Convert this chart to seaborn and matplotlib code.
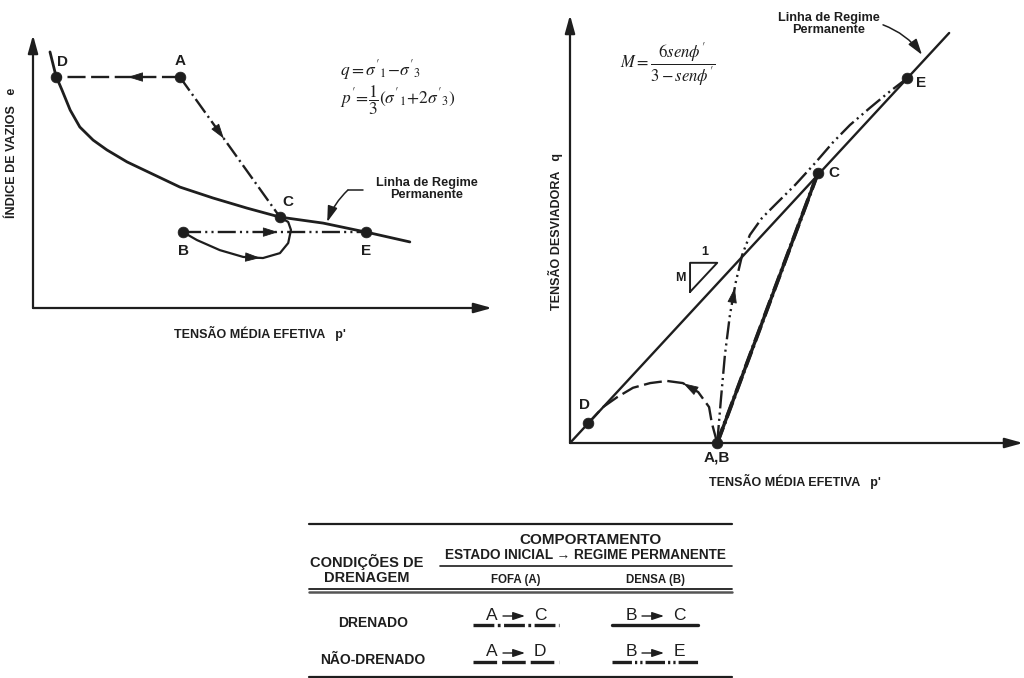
import numpy as np
import matplotlib
matplotlib.use("Agg")
import matplotlib.pyplot as plt
import seaborn as sns

# ---------------- e x p' diagram ----------------
csl_p = [0.37, 0.50, 0.63, 0.81, 1.02, 1.31, 1.61, 2.05, 2.55, 3.20, 3.92, 4.66,
         5.38, 6.32, 7.34, 8.21]
csl_e = [9.38, 8.50, 7.99, 7.25, 6.63, 6.15, 5.79, 5.35, 4.95, 4.43, 4.03, 3.66,
         3.33, 3.11, 2.75, 2.42]

left_names = ["D", "A", "C", "B", "E"]
left_p = [0.50, 3.20, 5.38, 3.27, 7.25]
left_e = [8.46, 8.46, 3.33, 2.78, 2.78]

# drained dense path B -> C (loop under the steady-state line)
loop_p = [3.27, 3.57, 4.07, 4.58, 5.01, 5.38, 5.56, 5.62, 5.56, 5.38]
loop_e = [2.78, 2.49, 2.12, 1.87, 1.83, 2.01, 2.38, 2.86, 3.15, 3.33]

# ---------------- q x p' diagram ----------------
ssl_p = [0.0, 8.37]
ssl_q = [0.0, 9.58]

right_names = ["D", "A,B", "C", "E"]
right_p = [0.40, 3.25, 5.47, 7.44]
right_q = [0.46, 0.00, 6.30, 8.52]

undr_loose_p = [3.25, 3.13, 3.07, 2.83, 2.49, 2.14, 1.77, 1.39, 1.04, 0.73, 0.40]
undr_loose_q = [0.00, 0.47, 0.84, 1.19, 1.40, 1.45, 1.40, 1.29, 1.07, 0.84, 0.46]

undr_dense_p = [3.25, 3.33, 3.42, 3.53, 3.66, 3.80, 3.97, 4.24, 4.57, 4.97, 5.41,
                5.81, 6.18, 6.62, 7.02, 7.44]
undr_dense_q = [0.00, 1.00, 2.06, 2.99, 3.76, 4.39, 4.86, 5.26, 5.61, 6.03, 6.54,
                7.03, 7.43, 7.83, 8.18, 8.52]

# ---------------- table ----------------
drain_rows = ["DRENADO", "NÃO-DRENADO"]
state_cols = ["FOFA (A)", "DENSA (B)"]
paths_tab = [[("A", "C"), ("B", "C")], [("A", "D"), ("B", "E")]]

INK = "#1e1e1e"
# dash patterns in points
DASHED = (0, (13, 4))
DASHDOT = (0, (12, 3, 1.5, 3))
DASHDOTDOT = (0, (13, 3, 1.5, 3, 1.5, 3))
TAB_DASHED = (0, (17, 3.6))
TAB_DASHDOT = (0, (15, 2.5, 2, 2.5))
TAB_DASHDOTDOT = (0, (14, 2.2, 1.6, 2.2, 1.6, 2.2))

sns.set_theme(style="white")
plt.rcParams["font.family"] = ["Liberation Sans", "DejaVu Sans"]
plt.rcParams["mathtext.fontset"] = "stix"
plt.rcParams["lines.scale_dashes"] = False

fig = plt.figure(figsize=(10.24, 6.78), dpi=100)
fig.patch.set_facecolor("white")

HEAD = "-|>,head_length=0.8,head_width=0.25"


def setup(ax):
    ax.set_xlim(0, 10)
    ax.set_ylim(0, 10)
    ax.axis("off")
    ax.patch.set_alpha(0)
    head = "-|>,head_length=0.9,head_width=0.25"
    ax.annotate("", xy=(10, 0), xytext=(0, 0), annotation_clip=False,
                arrowprops=dict(arrowstyle=head, color=INK, lw=1.6, shrinkA=0, shrinkB=0))
    ax.annotate("", xy=(0, 10), xytext=(0, 0), annotation_clip=False,
                arrowprops=dict(arrowstyle=head, color=INK, lw=1.6, shrinkA=0, shrinkB=0))


def path_arrow(ax, xs, ys, t, length=9):
    """Arrow head placed at fraction t of the arc length of a polyline."""
    disp = ax.transData.transform(np.column_stack([xs, ys]))
    seg = np.hypot(*np.diff(disp, axis=0).T)
    cum = np.concatenate([[0], np.cumsum(seg)])
    s = t * cum[-1]

    def at(sv):
        i = int(np.clip(np.searchsorted(cum, sv) - 1, 0, len(seg) - 1))
        f = (sv - cum[i]) / seg[i]
        return disp[i] + f * (disp[i + 1] - disp[i])

    tip = at(s)
    tail = at(max(s - length, 0))
    inv = ax.transData.inverted()
    ax.annotate("", xy=inv.transform(tip), xytext=inv.transform(tail),
                arrowprops=dict(arrowstyle=HEAD, color=INK, lw=0.6,
                                shrinkA=0, shrinkB=0))


def line(ax, xs, ys, ls="-", lw=1.6):
    sns.lineplot(x=xs, y=ys, sort=False, estimator=None, ax=ax,
                 color=INK, linewidth=lw, linestyle=ls, legend=False)


LBL = dict(ha="center", va="center", fontweight="bold", color=INK)

# ===== left: void ratio vs mean effective stress =====
axL = fig.add_axes([33 / 1024, 1 - 308 / 678, 459 / 1024, 273 / 678])
setup(axL)
line(axL, csl_p, csl_e, lw=2.0)
iA, iD, iC, iB, iE = (left_names.index(k) for k in ["A", "D", "C", "B", "E"])
ad_p, ad_e = [left_p[iA], left_p[iD]], [left_e[iA], left_e[iD]]
ac_p, ac_e = [left_p[iA], left_p[iC]], [left_e[iA], left_e[iC]]
be_p, be_e = [left_p[iB], left_p[iE]], [left_e[iB], left_e[iE]]
line(axL, ad_p, ad_e, ls=DASHED, lw=1.7)
line(axL, ac_p, ac_e, ls=DASHDOT, lw=1.7)
line(axL, be_p, be_e, ls=DASHDOTDOT, lw=1.7)
line(axL, loop_p, loop_e, lw=1.6)
sns.scatterplot(x=left_p, y=left_e, ax=axL, color=INK, s=60, edgecolor=INK,
                linewidth=0.5, zorder=5, legend=False)
path_arrow(axL, ad_p, ad_e, 0.42)
path_arrow(axL, ac_p, ac_e, 0.44)
path_arrow(axL, be_p, be_e, 0.52)
path_arrow(axL, loop_p, loop_e, 0.56)

lab_off = {"D": (0.15, 0.55), "A": (0.0, 0.58), "C": (0.17, 0.55),
           "B": (0.0, -0.68), "E": (0.0, -0.68)}
for n, x, y in zip(left_names, left_p, left_e):
    dx, dy = lab_off[n]
    axL.text(x + dx, y + dy, n, fontsize=11, **LBL)

axL.text(8.58, 4.35, "Linha de Regime\nPermanente", fontsize=9.2,
         linespacing=1.0, **LBL)
axL.plot([7.19, 6.86], [4.32, 4.32], color=INK, lw=1.1)
axL.annotate("", xy=(6.41, 3.15), xytext=(6.86, 4.32),
             arrowprops=dict(arrowstyle=HEAD, color=INK, lw=1.1, shrinkA=0,
                             shrinkB=0, connectionstyle="arc3,rad=0.12"))

axL.text(6.69, 8.70, r"$q=\sigma'_1\!-\!\sigma'_3$", fontsize=12.5,
         va="center", color=INK)
axL.text(6.69, 7.60, r"$p'\!=\!\dfrac{1}{3}(\sigma'_1\!+\!2\sigma'_3)$",
         fontsize=12.5, va="center", color=INK)

axL.text(4.95, -0.92, "TENSÃO MÉDIA EFETIVA   p'", fontsize=9, **LBL)
axL.text(-0.46, 5.68, "ÍNDICE DE VAZIOS   e", rotation=90, fontsize=9, **LBL)

# ===== right: deviator stress vs mean effective stress =====
axR = fig.add_axes([570 / 1024, 1 - 443 / 678, 453 / 1024, 428 / 678])
setup(axR)
line(axR, ssl_p, ssl_q, lw=1.7)
jAB, jC = right_names.index("A,B"), right_names.index("C")
dr_p, dr_q = [right_p[jAB], right_p[jC]], [right_q[jAB], right_q[jC]]
line(axR, dr_p, dr_q, lw=2.4)
line(axR, dr_p, dr_q, ls=DASHDOT, lw=2.8)
line(axR, undr_loose_p, undr_loose_q, ls=DASHED, lw=1.7)
line(axR, undr_dense_p, undr_dense_q, ls=DASHDOTDOT, lw=1.7)
sns.scatterplot(x=right_p, y=right_q, ax=axR, color=INK, s=60, edgecolor=INK,
                linewidth=0.5, zorder=5, legend=False, clip_on=False)
path_arrow(axR, undr_loose_p, undr_loose_q, 0.40)
path_arrow(axR, undr_dense_p, undr_dense_q, 0.36)

lab_off_r = {"D": (-0.07, 0.43), "A,B": (0.0, -0.35), "C": (0.36, 0.0),
             "E": (0.32, -0.12)}
for n, x, y in zip(right_names, right_p, right_q):
    dx, dy = lab_off_r[n]
    axR.text(x + dx, y + dy, n, fontsize=11, **LBL)

# slope triangle
axR.plot([2.65, 2.65, 3.25, 2.65], [3.53, 4.21, 4.21, 3.53], color=INK, lw=1.4)
axR.text(2.98, 4.46, "1", fontsize=9, **LBL)
axR.text(2.43, 3.86, "M", fontsize=9, **LBL)

axR.text(5.72, 9.80, "Linha de Regime\nPermanente", fontsize=9.2,
         linespacing=1.0, **LBL)
axR.annotate("", xy=(7.77, 9.07), xytext=(6.91, 9.77), annotation_clip=False,
             arrowprops=dict(arrowstyle=HEAD, color=INK, lw=1.1, shrinkA=0,
                             shrinkB=0, connectionstyle="arc3,rad=-0.15"))
axR.text(1.10, 8.83, r"$M=\dfrac{6sen\phi'}{3-sen\phi'}$", fontsize=12,
         va="center", color=INK)

axR.text(4.97, -0.91, "TENSÃO MÉDIA EFETIVA   p'", fontsize=9, **LBL)
axR.text(-0.33, 4.93, "TENSÃO DESVIADORA   q", rotation=90, fontsize=9, **LBL)

# ===== table of drainage conditions =====
axT = fig.add_axes([0, 0, 1, 1], zorder=-1)
axT.set_xlim(0, 1024)
axT.set_ylim(678, 0)
axT.axis("off")

axT.plot([309, 732], [524, 524], color=INK, lw=1.6)
axT.plot([440, 732], [566, 566], color=INK, lw=1.2)
axT.plot([309, 732], [589, 589], color=INK, lw=1.3)
axT.plot([309, 732], [591.5, 591.5], color="#555555", lw=1.8)
axT.plot([309, 732], [676.5, 676.5], color=INK, lw=1.6)

axT.text(367, 562, "CONDIÇÕES DE", fontsize=10.5, **LBL)
axT.text(367, 578, "DRENAGEM", fontsize=10.5, **LBL)
axT.text(590, 540, "COMPORTAMENTO", fontsize=11, **LBL)
axT.text(585, 555, "ESTADO INICIAL \u2192 REGIME PERMANENTE", fontsize=9.8, **LBL)

col_x = [516, 655]
row_y = [623, 660]
for cx, name in zip(col_x, state_cols):
    axT.text(cx, 580, name, fontsize=8.3, **LBL)
for ry, name in zip(row_y, drain_rows):
    axT.text(373, ry, name, fontsize=10, **LBL)

styles = [[TAB_DASHDOT, "-"], [TAB_DASHED, TAB_DASHDOTDOT]]
for r, ry in enumerate(row_y):
    for c, cx in enumerate(col_x):
        a, b = paths_tab[r][c]
        ty = ry - 8
        axT.text(cx - 24, ty, a, ha="center", va="center", fontsize=12.5, color=INK)
        axT.text(cx + 24, ty, b, ha="center", va="center", fontsize=12.5, color=INK)
        axT.annotate("", xy=(cx + 9, ty + 1), xytext=(cx - 13, ty + 1),
                     arrowprops=dict(arrowstyle="-|>,head_length=0.6,head_width=0.2",
                                     color=INK, lw=1.0, shrinkA=0, shrinkB=0))
        axT.plot([cx - 43, cx + 43], [ry + 2, ry + 2], color=INK, lw=2.4,
                 linestyle=styles[r][c])

fig.savefig("out.png", dpi=100, facecolor="white")
